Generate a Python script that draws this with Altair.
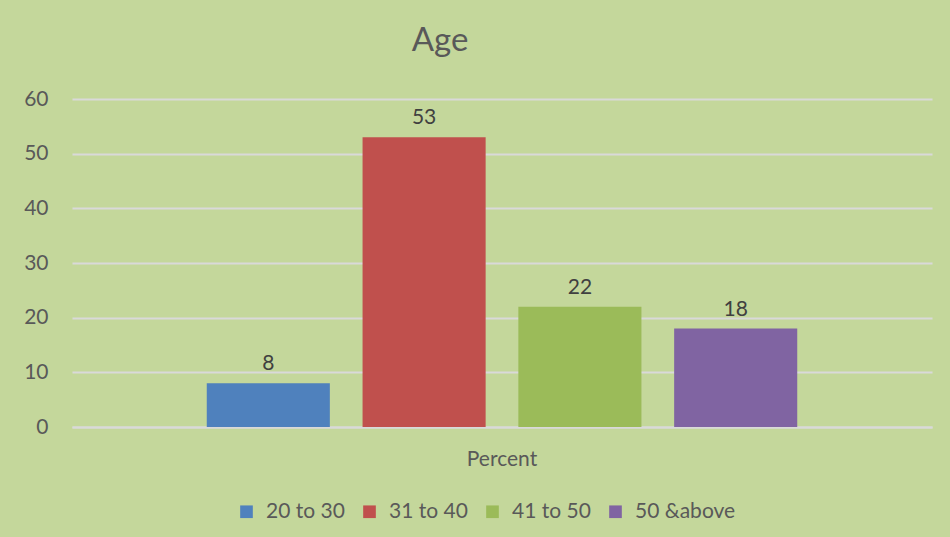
import altair as alt
import pandas as pd

# Survey respondents by age group (percent)
groups = ["20 to 30", "31 to 40", "41 to 50", "50 &above"]
percents = [8, 53, 22, 18]
category = ["Percent"] * len(groups)
colors = ["#4f81bd", "#c0504d", "#9bbb59", "#8064a2"]

df = pd.DataFrame({"category": category, "group": groups, "value": percents})

FONT = "Lato"
TEXT = "#595959"

x_enc = alt.X("category:N", title=None,
              scale=alt.Scale(paddingInner=0, paddingOuter=0.19),
              axis=alt.Axis(labelAngle=0, labelFontSize=21, labelColor=TEXT,
                            labelPadding=21, ticks=False, domain=True,
                            domainColor="#d9d9d9", domainWidth=2, labelFont=FONT))
xoff = alt.XOffset("group:N", sort=groups,
                   scale=alt.Scale(paddingInner=0.21, paddingOuter=0.105))
y_enc = alt.Y("value:Q", title=None,
              scale=alt.Scale(domain=[0, 60], nice=False),
              axis=alt.Axis(values=[0, 10, 20, 30, 40, 50, 60], labelFontSize=21,
                            labelColor=TEXT, labelPadding=24, ticks=False,
                            domain=False, gridColor="#d9d9d9", gridWidth=2,
                            labelFont=FONT))

bars = alt.Chart(df).mark_bar().encode(
    x=x_enc, xOffset=xoff, y=y_enc,
    color=alt.Color("group:N", sort=groups,
                    scale=alt.Scale(domain=groups, range=colors),
                    legend=alt.Legend(title=None, orient="none", direction="horizontal",
                                      legendX=164, legendY=402,
                                      symbolType="square", symbolSize=160,
                                      symbolStrokeWidth=0, labelFontSize=21,
                                      labelColor=TEXT, labelFont=FONT,
                                      labelOffset=9, columnPadding=14)),
)

labels = alt.Chart(df).mark_text(baseline="bottom", dy=-9, fontSize=21,
                                 color="#404040", font=FONT).encode(
    x="category:N", xOffset=alt.XOffset("group:N", sort=groups),
    y="value:Q", text="value:Q",
)

chart = alt.layer(bars, labels).properties(
    width=860, height=328,
    title=alt.TitleParams("Age", fontSize=33, color=TEXT, font=FONT,
                          fontWeight="normal", dx=-62, offset=30),
    background="#c4d79b",
    padding={"left": 72, "top": 99, "right": 18, "bottom": 110},
    autosize=alt.AutoSizeParams(type="none"),
).configure_view(stroke=None)

chart.save("out.html", embed_options={"renderer": "svg", "actions": False})
